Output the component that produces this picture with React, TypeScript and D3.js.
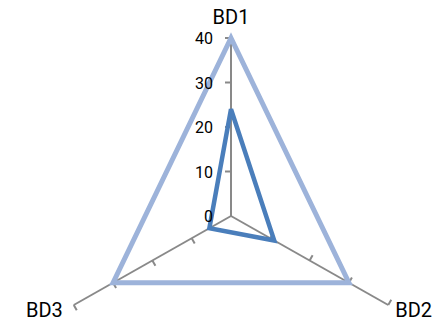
import React from "react";
import * as d3 from "d3";

const axes = ["BD1", "BD2", "BD3"];
const seriesDark = [24, 11, 5.5];
const seriesLight = [40, 30, 30];
const ticks = [0, 10, 20, 30, 40];

const W = 438;
const H = 321;
const cx = 231;
const cy = 216;
const R = 178;
const sx = 1.02;

export default function App() {
  const r = d3.scaleLinear().domain([0, 40]).range([0, R]);
  const ang = d3.scaleLinear().domain([0, axes.length]).range([0, 2 * Math.PI]);
  const pt = (i: number, v: number): [number, number] => {
    const a = ang(i);
    return [cx + r(v) * Math.sin(a) * sx, cy - r(v) * Math.cos(a)];
  };
  const line = d3.line<[number, number]>().curve(d3.curveLinearClosed);
  const poly = (vals: number[]) => line(vals.map((v, i) => pt(i, v))) || "";
  const labelOffsets: [number, number, string][] = [
    [0, -14, "middle"],
    [7, 12, "start"],
    [-11, 12, "end"],
  ];
  return (
    <svg width={W} height={H} style={{ position: "absolute", left: 0, top: 0 }}>
      <rect width={W} height={H} fill="#fff" />
      {axes.map((a, i) => {
        const [x2, y2] = pt(i, 40);
        const an = ang(i);
        const tx = -Math.cos(an);
        const ty = -Math.sin(an);
        return (
          <g key={a}>
            <line x1={cx} y1={cy} x2={x2} y2={y2} stroke="#898989" strokeWidth={2} />
            {ticks.slice(1).map((t) => {
              const [px, py] = pt(i, t);
              return (
                <line
                  key={t}
                  x1={px}
                  y1={py}
                  x2={px + tx * 6}
                  y2={py + ty * 6}
                  stroke="#898989"
                  strokeWidth={2}
                />
              );
            })}
          </g>
        );
      })}
      <path d={poly(seriesDark)} fill="none" stroke="#4A7EBB" strokeWidth={4.5} strokeLinejoin="miter" />
      <path d={poly(seriesLight)} fill="none" stroke="#9DB3DA" strokeWidth={5} strokeLinejoin="miter" />
      {ticks.map((t) => {
        const [, py] = pt(0, t);
        return (
          <text
            key={t}
            x={cx - 18}
            y={py + 6}
            textAnchor="end"
            fontFamily="Roboto"
            fontSize={16}
            fill="#000"
          >
            {t}
          </text>
        );
      })}
      {axes.map((a, i) => {
        const [x, y] = pt(i, 40);
        const [dx, dy, anchor] = labelOffsets[i];
        return (
          <text
            key={a}
            x={x + dx}
            y={y + dy}
            textAnchor={anchor as any}
            fontFamily="Roboto"
            fontSize={20}
            fill="#000"
          >
            {a}
          </text>
        );
      })}
    </svg>
  );
}
